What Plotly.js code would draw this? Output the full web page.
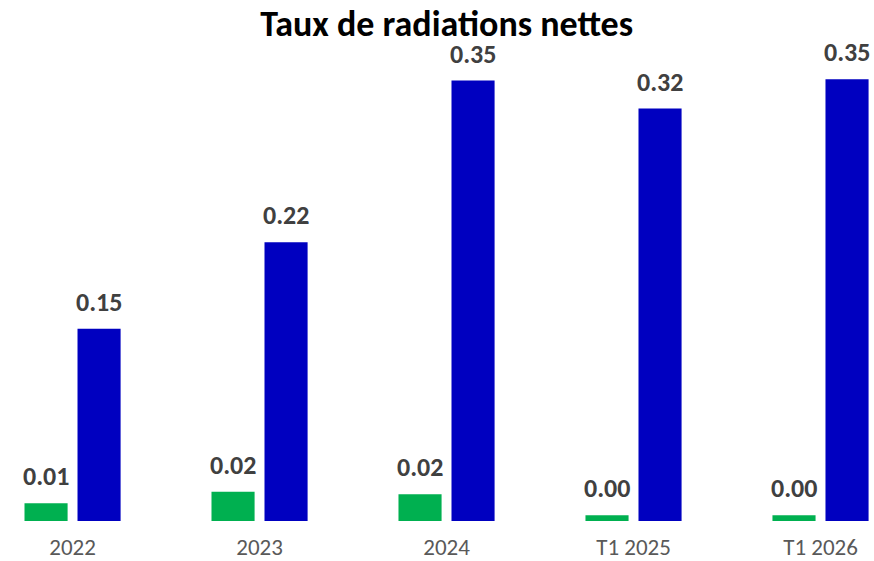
<!DOCTYPE html>
<html>
<head>
<meta charset="utf-8">
<script src="https://cdn.plot.ly/plotly-3.0.1.min.js"></script>
<style>html,body{margin:0;padding:0;background:#fff;}#chart{width:874px;height:561px;}</style>
</head>
<body>
<div id="chart"></div>
<script>
var categories = ["2022", "2023", "2024", "T1 2025", "T1 2026"];
var seriesGreen = [0.014, 0.023, 0.021, 0.0045, 0.0045];
var seriesBlue = [0.151, 0.219, 0.346, 0.324, 0.347];
var titleText = "Taux de radiations nettes";

var FONT = "Carlito, Lato, sans-serif";
var BARGAP = 0.433;
var off = (1 - BARGAP) / 4;

var traces = [
  {type: "bar", x: categories, y: seriesGreen, marker: {color: "#00B050"}, hoverinfo: "none", name: "A"},
  {type: "bar", x: categories, y: seriesBlue, marker: {color: "#0000C0"}, hoverinfo: "none", name: "B"}
];

var annotations = [];
[seriesGreen, seriesBlue].forEach(function (arr, s) {
  arr.forEach(function (v, i) {
    annotations.push({
      xref: "x", yref: "y", x: i + (s === 0 ? -off : off), y: v,
      text: v.toFixed(2), showarrow: false, yanchor: "bottom", xanchor: "center",
      yshift: 9, font: {family: FONT, size: 26, color: "#404040", weight: "bold"}
    });
  });
});

var layout = {
  width: 874, height: 561,
  margin: {l: 0, r: 0, t: 40, b: 40},
  paper_bgcolor: "#fff", plot_bgcolor: "#fff",
  showlegend: false,
  barmode: "group", bargap: BARGAP, bargroupgap: 0.187,
  title: {text: "<b>" + titleText + "</b>", x: 0.511, xanchor: "center", y: 0.98, yanchor: "top", yref: "container",
          font: {family: FONT, size: 36, color: "#000"}},
  xaxis: {type: "category", range: [-0.388, 4.286], showgrid: false, zeroline: false, showline: false,
          ticks: "", ticklabelstandoff: 10, tickfont: {family: FONT, size: 23, color: "#595959"}},
  yaxis: {range: [0, 0.3779], visible: false, showgrid: false, zeroline: false},
  annotations: annotations
};

Plotly.newPlot("chart", traces, layout, {displayModeBar: false, staticPlot: true});
</script>
</body>
</html>
